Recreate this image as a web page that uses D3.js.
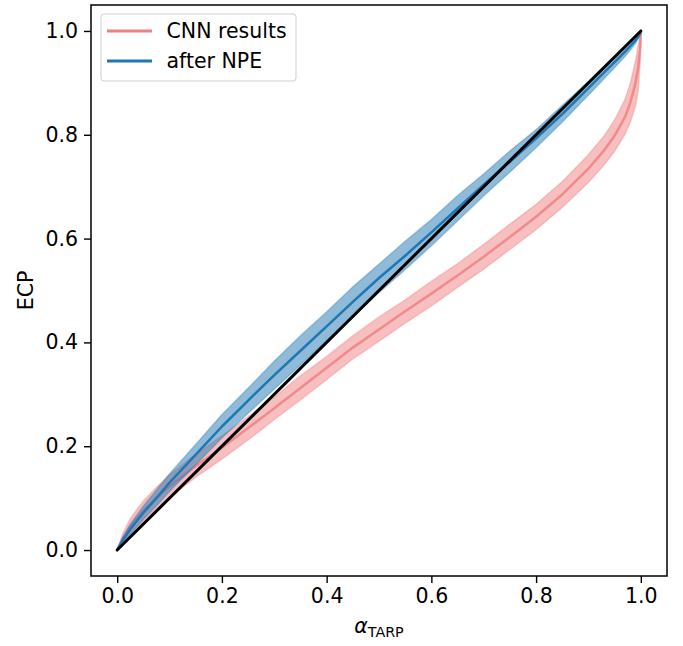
<!DOCTYPE html>
<html>
<head>
<meta charset="utf-8">
<script src="https://cdn.jsdelivr.net/npm/d3@7"></script>
<style>
  html, body { margin: 0; padding: 0; background: #ffffff; }
  svg { display: block; }
  text { font-family: "DejaVu Sans", sans-serif; fill: #000; }
</style>
</head>
<body>
<svg id="chart" width="683" height="646"></svg>
<script>
// Credibility levels (alpha) at which the coverage was evaluated
const alpha = [0, 0.01, 0.025, 0.05, 0.075, 0.1, 0.15, 0.2, 0.25, 0.3, 0.35, 0.4, 0.45, 0.5, 0.55,
               0.6, 0.65, 0.7, 0.75, 0.8, 0.85, 0.9, 0.93, 0.95, 0.97, 0.98, 0.99, 0.995, 0.999, 1];

// CNN results: expected coverage probability, mean and spread
const cnnMean = [0, 0.02, 0.045, 0.075, 0.1, 0.123, 0.162, 0.197, 0.235, 0.273, 0.312, 0.351, 0.39, 0.425, 0.46,
                 0.494, 0.529, 0.565, 0.603, 0.642, 0.685, 0.735, 0.77, 0.798, 0.835, 0.862, 0.9, 0.93, 0.97, 1];
const cnnLow  = [0, 0.01, 0.029, 0.055, 0.079, 0.101, 0.14, 0.175, 0.212, 0.251, 0.289, 0.328, 0.368, 0.402, 0.437,
                 0.47, 0.506, 0.541, 0.579, 0.617, 0.66, 0.708, 0.742, 0.768, 0.801, 0.824, 0.855, 0.885, 0.94, 1];
const cnnHigh = [0, 0.03, 0.061, 0.095, 0.121, 0.145, 0.185, 0.22, 0.257, 0.295, 0.336, 0.373, 0.413, 0.449, 0.482,
                 0.518, 0.552, 0.589, 0.628, 0.666, 0.71, 0.762, 0.798, 0.829, 0.869, 0.9, 0.944, 0.972, 0.995, 1];

// After NPE: expected coverage probability, mean and spread
const npeMean = [0, 0.018, 0.04, 0.072, 0.1, 0.13, 0.184, 0.238, 0.288, 0.337, 0.384, 0.431, 0.478, 0.524, 0.567,
                 0.612, 0.658, 0.704, 0.748, 0.793, 0.84, 0.89, 0.92, 0.94, 0.96, 0.971, 0.982, 0.989, 0.996, 1];
const npeLow  = [0, 0.012, 0.03, 0.059, 0.085, 0.113, 0.164, 0.216, 0.263, 0.31, 0.356, 0.403, 0.45, 0.496, 0.54,
                 0.586, 0.634, 0.682, 0.728, 0.775, 0.824, 0.876, 0.908, 0.929, 0.951, 0.963, 0.976, 0.985, 0.994, 1];
const npeHigh = [0, 0.024, 0.05, 0.085, 0.116, 0.147, 0.204, 0.261, 0.312, 0.364, 0.413, 0.459, 0.507, 0.551, 0.595,
                 0.637, 0.683, 0.725, 0.769, 0.81, 0.857, 0.903, 0.932, 0.951, 0.969, 0.979, 0.988, 0.993, 0.998, 1];

// Ideal calibration reference
const diagonal = [0, 1];

const tickValues = [0, 0.2, 0.4, 0.6, 0.8, 1.0];
const seriesNames = ["CNN results", "after NPE"];

const cnnColor = "#f08080";
const npeColor = "#1f77b4";

const svg = d3.select("#chart");
const plot = { left: 91, right: 667, top: 5, bottom: 576 };

const x = d3.scaleLinear().domain([-0.05, 1.05]).range([plot.left, plot.right]);
const y = d3.scaleLinear().domain([-0.05, 1.05]).range([plot.bottom, plot.top]);

const rows = (mean, low, high) => alpha.map((a, i) => ({ a, m: mean[i], lo: low[i], hi: high[i] }));
const cnn = rows(cnnMean, cnnLow, cnnHigh);
const npe = rows(npeMean, npeLow, npeHigh);

const band = d3.area().x(d => x(d.a)).y0(d => y(d.lo)).y1(d => y(d.hi));
const line = d3.line().x(d => x(d.a)).y(d => y(d.m));

const g = svg.append("g");
g.append("clipPath").attr("id", "clip").append("rect")
  .attr("x", plot.left).attr("y", plot.top)
  .attr("width", plot.right - plot.left).attr("height", plot.bottom - plot.top);
const body = g.append("g").attr("clip-path", "url(#clip)");

// CNN band and mean
body.append("path").datum(cnn).attr("d", band)
  .attr("fill", cnnColor).attr("fill-opacity", 0.5)
  .attr("stroke", cnnColor).attr("stroke-opacity", 0.35).attr("stroke-width", 1.5);
body.append("path").datum(cnn).attr("d", line)
  .attr("fill", "none").attr("stroke", cnnColor).attr("stroke-opacity", 0.85)
  .attr("stroke-width", 2.5).attr("stroke-linejoin", "round");

// NPE band and mean
body.append("path").datum(npe).attr("d", band)
  .attr("fill", npeColor).attr("fill-opacity", 0.5)
  .attr("stroke", npeColor).attr("stroke-opacity", 0.3).attr("stroke-width", 1.5);
body.append("path").datum(npe).attr("d", line)
  .attr("fill", "none").attr("stroke", npeColor)
  .attr("stroke-width", 2.5).attr("stroke-linejoin", "round");

// Diagonal
body.append("path").datum(diagonal)
  .attr("d", d3.line().x(d => x(d)).y(d => y(d)))
  .attr("stroke", "#000").attr("stroke-width", 3).attr("stroke-linecap", "round").attr("fill", "none");

// Axes
const fontSize = 20.5;
const xAxis = d3.axisBottom(x).tickValues(tickValues).tickFormat(d3.format(".1f")).tickSize(7).tickPadding(5);
const yAxis = d3.axisLeft(y).tickValues(tickValues).tickFormat(d3.format(".1f")).tickSize(7).tickPadding(6);

const gx = svg.append("g").attr("transform", `translate(0,${plot.bottom})`).call(xAxis);
const gy = svg.append("g").attr("transform", `translate(${plot.left},0)`).call(yAxis);
[gx, gy].forEach(ax => {
  ax.select(".domain").remove();
  ax.selectAll(".tick line").attr("stroke", "#000").attr("stroke-width", 1.4);
  ax.selectAll(".tick text").attr("font-size", fontSize).attr("font-family", "DejaVu Sans").attr("fill", "#000");
});

// Frame
svg.append("rect")
  .attr("x", plot.left).attr("y", plot.top)
  .attr("width", plot.right - plot.left).attr("height", plot.bottom - plot.top)
  .attr("fill", "none").attr("stroke", "#000").attr("stroke-width", 1.5);

// Axis labels
const xl = svg.append("text")
  .attr("x", (plot.left + plot.right) / 2).attr("y", 633)
  .attr("text-anchor", "middle").attr("font-size", fontSize);
xl.append("tspan").attr("font-style", "italic").text("α");
xl.append("tspan").attr("font-size", 14.3).attr("dy", 4).text("TARP");

svg.append("text")
  .attr("transform", `translate(33,${(plot.top + plot.bottom) / 2}) rotate(-90)`)
  .attr("text-anchor", "middle").attr("font-size", fontSize)
  .text("ECP");

// Legend
const legend = svg.append("g");
legend.append("rect")
  .attr("x", 101).attr("y", 14).attr("width", 195).attr("height", 67).attr("rx", 3)
  .attr("fill", "#fff").attr("fill-opacity", 0.8).attr("stroke", "#d0d0d0").attr("stroke-width", 1);
const legendColors = [cnnColor, npeColor];
seriesNames.forEach((name, i) => {
  const ly = 31 + i * 30;
  legend.append("line").attr("x1", 107).attr("x2", 152).attr("y1", ly).attr("y2", ly)
    .attr("stroke", legendColors[i]).attr("stroke-width", 3);
  legend.append("text").attr("x", 166.5).attr("y", ly + 7).attr("font-size", fontSize).text(name);
});
</script>
</body>
</html>
